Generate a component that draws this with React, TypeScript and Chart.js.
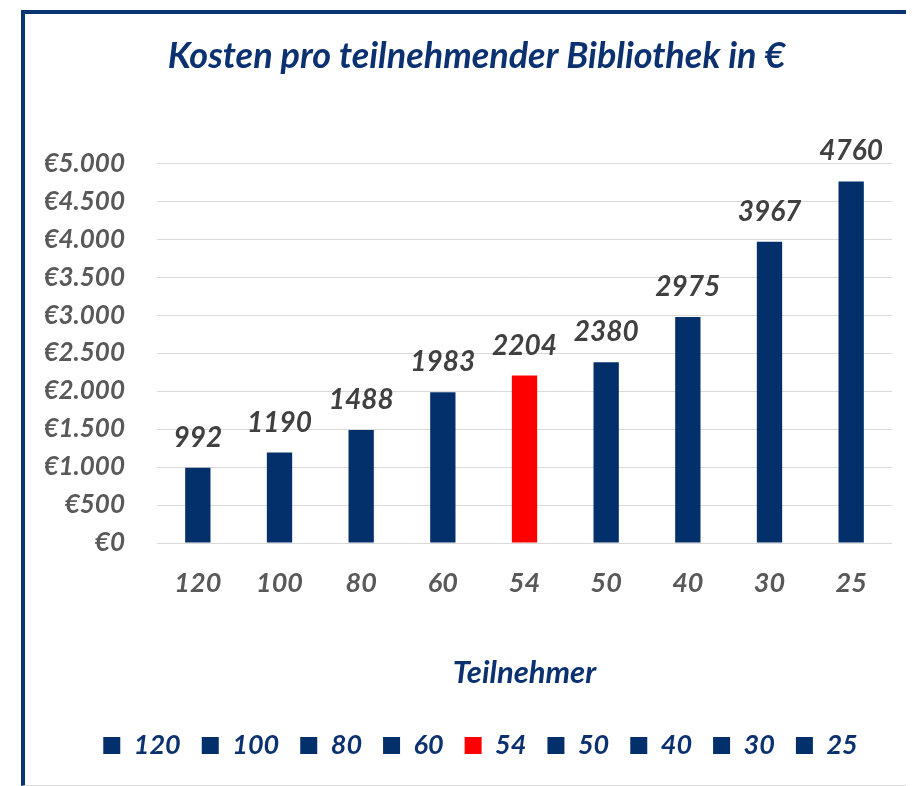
import React, { useEffect, useRef } from "react";
import { Chart, registerables } from "chart.js";

Chart.register(...registerables);

const categories: string[] = ["120", "100", "80", "60", "54", "50", "40", "30", "25"];
const values: number[] = [992, 1190, 1488, 1983, 2204, 2380, 2975, 3967, 4760];
const highlightCategory = "54";

const TITLE = "Kosten pro teilnehmender Bibliothek in €";
const X_TITLE = "Teilnehmer";

const NAVY = "#03306b";
const RED = "#ff0000";
const FONT = "Lato";

const barColors = categories.map((c) => (c === highlightCategory ? RED : NAVY));

const fmtEuro = (v: number) => "€" + String(v).replace(/\B(?=(\d{3})+(?!\d))/g, ".");

const valueLabels = {
  id: "valueLabels",
  afterDatasetsDraw(chart: any) {
    const ctx = chart.ctx;
    const meta = chart.getDatasetMeta(0);
    ctx.save();
    ctx.font = `italic bold 28px ${FONT}`;
    ctx.fillStyle = "#404040";
    ctx.textAlign = "center";
    ctx.textBaseline = "alphabetic";
    meta.data.forEach((el: any, i: number) => {
      ctx.fillText(String(values[i]), el.x, el.y - 21);
    });
    ctx.restore();
  },
};

// nudge the centred title and legend to the right, as in the reference
const shiftBoxes = {
  id: "shiftBoxes",
  afterLayout(chart: any) {
    if (chart.legend) {
      chart.legend.left += 12;
      chart.legend.right += 12;
    }
    if (chart.titleBlock) {
      chart.titleBlock.left += 8;
      chart.titleBlock.right += 8;
    }
  },
};

export default function App() {
  const ref = useRef<HTMLCanvasElement | null>(null);

  useEffect(() => {
    if (!ref.current) return;
    const chart = new Chart(ref.current, {
      type: "bar",
      data: {
        labels: categories,
        datasets: [
          {
            label: "Kosten",
            data: values,
            backgroundColor: barColors,
            borderWidth: 0,
            categoryPercentage: 0.31,
            barPercentage: 1,
          },
        ],
      },
      options: {
        responsive: false,
        animation: false,
        layout: { padding: { left: 20, right: 14, top: 0, bottom: 16 } },
        scales: {
          x: {
            grid: { display: false, drawTicks: false },
            border: { display: false },
            ticks: {
              padding: 24,
              color: "#595959",
              font: { family: FONT, size: 27, style: "italic", weight: "bold" },
            },
            title: {
              display: true,
              text: X_TITLE,
              color: "#0b3170",
              font: { family: FONT, size: 31, style: "italic", weight: "bold" },
              padding: { top: 50, bottom: 19 },
            },
            afterFit: (s: any) => {
              s.height = 168;
            },
          },
          y: {
            min: 0,
            max: 5000,
            grid: { color: "#d9d9d9", lineWidth: 1, drawTicks: false },
            border: { display: false },
            ticks: {
              stepSize: 500,
              padding: 32,
              color: "#595959",
              font: { family: FONT, size: 26, style: "italic", weight: "bold" },
              callback: (v: any) => fmtEuro(Number(v)),
            },
            afterFit: (s: any) => {
              s.width = 112;
            },
          },
        },
        plugins: {
          tooltip: { enabled: false },
          title: {
            display: true,
            text: TITLE,
            color: "#0b3170",
            font: { family: FONT, size: 36, style: "italic", weight: "bold" },
            padding: { top: 21, bottom: 85 },
          },
          legend: {
            position: "bottom",
            onClick: () => {},
            labels: {
              boxWidth: 17,
              boxHeight: 17,
              padding: 21,
              color: "#0b3170",
              font: { family: FONT, size: 27, style: "italic", weight: "bold" },
              generateLabels: () =>
                categories.map((c, i) => ({
                  text: c,
                  fillStyle: barColors[i],
                  strokeStyle: barColors[i],
                  lineWidth: 0,
                  hidden: false,
                  index: i,
                  fontColor: "#0b3170",
                })),
            },
          },
        },
      },
      plugins: [valueLabels, shiftBoxes],
    });
    return () => chart.destroy();
  }, []);

  return (
    <div
      style={{
        position: "fixed",
        left: 21,
        top: 10,
        width: 881,
        height: 771,
        borderLeft: "4px solid #0a3470",
        borderTop: "4px solid #0a3470",
        borderBottom: "1px solid #d9d9d9",
        background: "#ffffff",
      }}
    >
      <canvas ref={ref} width={881} height={771} style={{ display: "block" }} />
    </div>
  );
}
